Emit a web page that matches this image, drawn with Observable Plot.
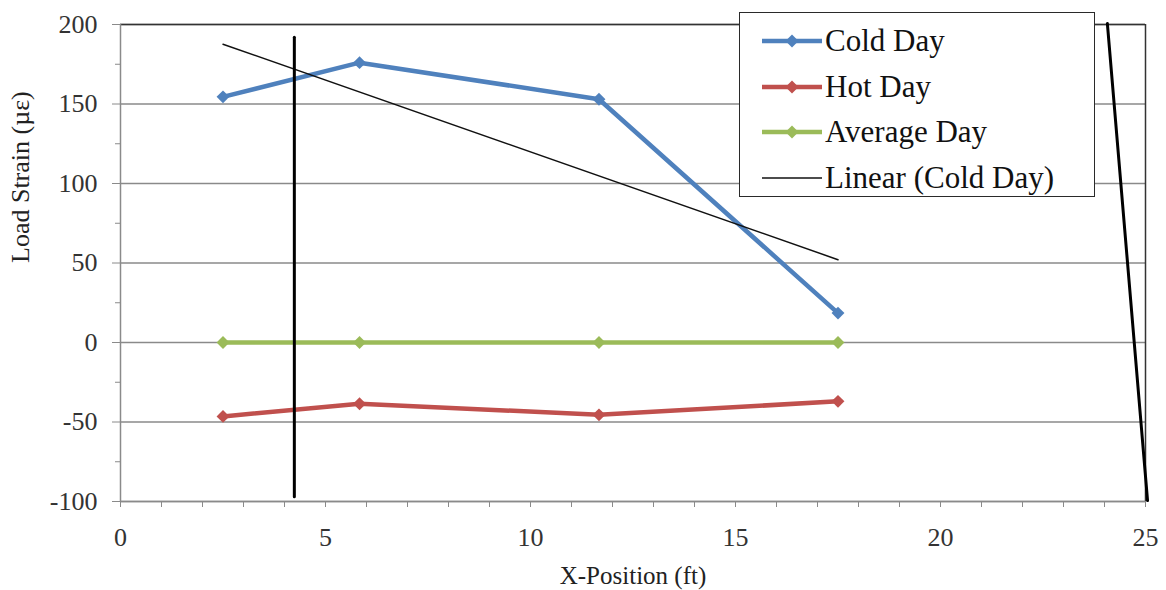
<!DOCTYPE html>
<html>
<head>
<meta charset="utf-8">
<script src="https://cdn.jsdelivr.net/npm/d3@7"></script>
<script src="https://cdn.jsdelivr.net/npm/@observablehq/plot@0.6"></script>
<style>
  html, body { margin: 0; padding: 0; background: #fff; }
  #wrap { position: relative; width: 1166px; height: 590px; }
  #legend {
    position: absolute; left: 739px; top: 12px; width: 354px; height: 183px;
    border: 1.5px solid #2a2a2a; background: #fff;
    font-family: "Liberation Serif", "Times New Roman", serif; font-size: 31px; color: #111;
  }
  .item { position: absolute; left: 0; height: 40px; display: flex; align-items: center; }
  .item svg { margin-left: 22px; margin-right: 3px; }
</style>
</head>
<body>
<div id="wrap"><div id="chart"></div><div id="legend"></div></div>
<script>
// ---- data ----
const positions = [2.5, 5.83, 11.67, 17.5];          // X-Position (ft)
const coldDay   = [154.5, 176, 153, 18.5];            // Load strain (µε)
const hotDay    = [-46.5, -38.5, -45.5, -37];
const averageDay = [0, 0, 0, 0];
const seriesNames = ["Cold Day", "Hot Day", "Average Day"];
const seriesColors = ["#4F81BD", "#C0504D", "#9BBB59"];
const trendName = "Linear (Cold Day)";
// hand-drawn black annotation strokes in the original
const verticalStroke = [{x: 4.24, y: 192}, {x: 4.24, y: -97}];
const diagonalStroke = [{x: 24.07, y: 200.6}, {x: 25.05, y: -99.4}];
const xTickLabels = [0, 5, 10, 15, 20, 25];
const xMinorTicks = d3.range(0, 26, 1);
const yTickLabels = [-100, -50, 0, 50, 100, 150, 200];
const yMinorTicks = [-75, -25, 25, 75, 125, 175];
const xTitle = "X-Position (ft)";
const yTitle = "Load Strain (\u00b5\u03b5)";

const seriesValues = [coldDay, hotDay, averageDay];
const rows = seriesNames.flatMap((name, i) =>
  positions.map((x, j) => ({series: name, x, y: seriesValues[i][j]})));
const coldRows = rows.filter(d => d.series === "Cold Day");

const grid = "#8a8a8a";
const font = "'Liberation Serif', 'Times New Roman', serif";
const plain = d => String(d);

const chart = Plot.plot({
  width: 1166, height: 590,
  marginLeft: 120, marginRight: 21, marginTop: 24, marginBottom: 89,
  style: {fontFamily: font, fontSize: "26px", background: "#fff", color: "#222"},
  x: {domain: [0, 25]},
  y: {domain: [-100, 200]},
  color: {domain: seriesNames, range: seriesColors},
  marks: [
    Plot.gridY(yTickLabels, {stroke: grid, strokeOpacity: 1, strokeWidth: 1.5}),
    Plot.ruleY([200], {stroke: "#333", strokeWidth: 1.5}),
    Plot.ruleX([25], {stroke: "#333", strokeWidth: 1.5}),
    Plot.ruleX([0], {stroke: grid, strokeWidth: 1.5}),
    Plot.ruleY([-100], {stroke: grid, strokeWidth: 1.5}),
    Plot.axisY(yTickLabels, {tickSize: 8, tickPadding: 15, stroke: grid, fill: "#333", label: null, tickFormat: plain}),
    Plot.axisY(yMinorTicks, {tickSize: 5, text: null, stroke: grid, label: null}),
    Plot.axisX(xMinorTicks, {tickSize: 6, text: null, stroke: grid, label: null}),
    Plot.axisX(xTickLabels, {tickSize: 6, tickPadding: 20, stroke: grid, fill: "#333", label: null, tickFormat: plain}),
    Plot.line(rows, {x: "x", y: "y", z: "series", stroke: "series", strokeWidth: 4.5}),
    Plot.dot(rows, {x: "x", y: "y", fill: "series", symbol: "diamond2", r: 5.8}),
    Plot.linearRegressionY(coldRows, {x: "x", y: "y", stroke: "#111", strokeWidth: 1.5, ci: 0}),
    Plot.line(verticalStroke, {x: "x", y: "y", stroke: "#000", strokeWidth: 3, clip: false}),
    Plot.line(diagonalStroke, {x: "x", y: "y", stroke: "#000", strokeWidth: 3, clip: false}),
    Plot.text([xTitle], {frameAnchor: "bottom", dy: 74, fontSize: 25, fill: "#222", lineAnchor: "middle"}),
    Plot.text([yTitle], {frameAnchor: "left", dx: -100, rotate: -90, fontSize: 26, fill: "#222", lineAnchor: "middle"})
  ]
});
document.getElementById("chart").appendChild(chart);

// ---- legend ----
const legend = document.getElementById("legend");
const entries = seriesNames.map((n, i) => ({name: n, color: seriesColors[i], marker: true}))
  .concat([{name: trendName, color: "#111", marker: false}]);
const centers = [28, 74, 119, 165];
entries.forEach((e, i) => {
  const div = document.createElement("div");
  div.className = "item";
  div.style.top = (centers[i] - 20) + "px";
  const sw = e.marker
    ? `<svg width="60" height="16"><line x1="0" y1="8" x2="60" y2="8" stroke="${e.color}" stroke-width="4.5"/><path d="M30,1.5L36.5,8L30,14.5L23.5,8Z" fill="${e.color}"/></svg>`
    : `<svg width="60" height="16"><line x1="0" y1="8" x2="60" y2="8" stroke="${e.color}" stroke-width="1.5"/></svg>`;
  div.innerHTML = sw + `<span>${e.name}</span>`;
  legend.appendChild(div);
});
</script>
</body>
</html>
